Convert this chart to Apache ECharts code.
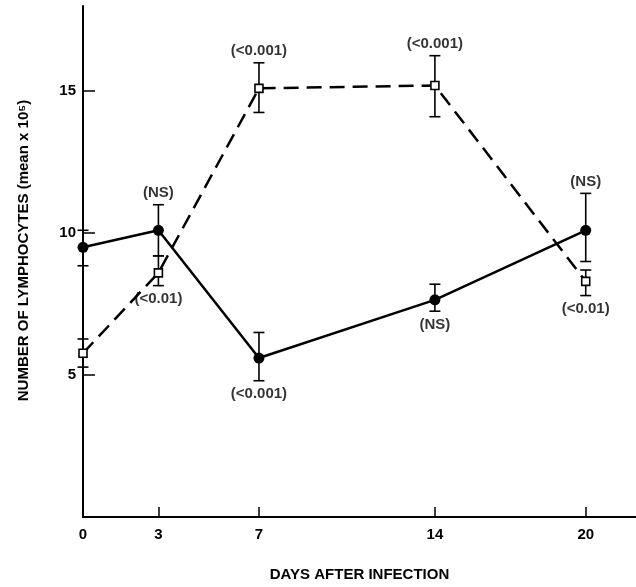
<!DOCTYPE html>
<html>
<head>
<meta charset="utf-8">
<script src="https://cdn.jsdelivr.net/npm/echarts@6/dist/echarts.min.js"></script>
<style>html,body{margin:0;padding:0;background:#fff}#c{width:636px;height:587px}</style>
</head>
<body>
<div id="c"></div>
<script>
// ---- data ----
const days = [0, 3, 7, 14, 20];
const xTickLabels = [0, 3, 7, 14, 20];
const yTickLabels = [5, 10, 15];

// solid line, filled circles
const solidMean = [9.5, 10.1, 5.6, 7.65, 10.1];
const solidLow  = [8.85, 9.2, 4.8, 7.25, 9.0];
const solidHigh = [10.1, 11.0, 6.5, 8.2, 11.4];
const solidP    = ['', '(NS)', '(<0.001)', '(NS)', '(NS)'];
const solidPPos = ['', 'top', 'bottom', 'bottom', 'top'];

// dashed line, open squares
const dashMean = [5.77, 8.6, 15.1, 15.2, 8.3];
const dashLow  = [5.28, 8.15, 14.25, 14.1, 7.8];
const dashHigh = [6.27, 9.2, 16.0, 16.25, 8.7];
const dashP    = ['', '(<0.01)', '(<0.001)', '(<0.001)', '(<0.01)'];
const dashPPos = ['', 'bottom', 'top', 'top', 'bottom'];

const FONT = '"Liberation Sans", Arial, Helvetica, sans-serif';

function errData(mean, lo, hi) {
  return days.map((d, i) => [d, lo[i], hi[i]]);
}
function lineData(mean) {
  return days.map((d, i) => [d, mean[i]]);
}
function labelData(pos, txt, lo, hi, which) {
  const out = [];
  days.forEach((d, i) => {
    if (txt[i] && pos[i] === which) out.push({ value: [d, which === 'top' ? hi[i] : lo[i]], name: txt[i] });
  });
  return out;
}

function errRender(params, api) {
  const x = api.value(0);
  const lo = api.coord([x, api.value(1)]);
  const hi = api.coord([x, api.value(2)]);
  const w = 5.5;
  const st = { stroke: '#000', lineWidth: 1.6 };
  return {
    type: 'group',
    children: [
      { type: 'line', shape: { x1: hi[0], y1: hi[1], x2: lo[0], y2: lo[1] }, style: st },
      { type: 'line', shape: { x1: hi[0] - w, y1: hi[1], x2: hi[0] + w, y2: hi[1] }, style: st },
      { type: 'line', shape: { x1: lo[0] - w, y1: lo[1], x2: lo[0] + w, y2: lo[1] }, style: st }
    ]
  };
}

const txt = { color: '#000', fontFamily: FONT, fontSize: 15, fontWeight: 'bold' };

const chart = echarts.init(document.getElementById('c'), null, { renderer: 'canvas' });
chart.setOption({
  animation: false,
  backgroundColor: '#fff',
  grid: { left: 83, right: 0, top: 6, bottom: 65, containLabel: false },
  xAxis: {
    type: 'value', min: 0, max: 22,
    name: 'DAYS AFTER INFECTION', nameLocation: 'middle', nameGap: 50,
    nameTextStyle: { ...txt },
    axisLine: { lineStyle: { color: '#000', width: 2 } },
    axisTick: { show: true, inside: true, length: 10, lineStyle: { color: '#000', width: 1.5 }, customValues: [3, 7, 14, 20] },
    axisLabel: { ...txt, margin: 10, customValues: xTickLabels },
    splitLine: { show: false }
  },
  yAxis: {
    type: 'value', min: 0, max: 18,
    name: 'NUMBER OF LYMPHOCYTES (mean x 10⁵)', nameLocation: 'middle', nameGap: 52,
    nameTextStyle: { ...txt, padding: [0, 0, 0, 22] },
    axisLine: { lineStyle: { color: '#000', width: 2 } },
    axisTick: { show: true, inside: true, length: 12, lineStyle: { color: '#000', width: 1.5 }, customValues: yTickLabels },
    axisLabel: { ...txt, margin: 7, customValues: yTickLabels },
    splitLine: { show: false }
  },
  series: [
    { type: 'custom', renderItem: errRender, data: errData(solidMean, solidLow, solidHigh), z: 2, silent: true },
    { type: 'custom', renderItem: errRender, data: errData(dashMean, dashLow, dashHigh), z: 2, silent: true },
    {
      type: 'line', data: lineData(solidMean), z: 3,
      lineStyle: { color: '#000', width: 2.5 },
      symbol: 'circle', symbolSize: 11,
      itemStyle: { color: '#000', borderColor: '#000', borderWidth: 0 }
    },
    {
      type: 'line', data: lineData(dashMean), z: 4,
      lineStyle: { color: '#000', width: 2.5, type: [15, 8] },
      symbol: 'rect', symbolSize: 8,
      itemStyle: { color: '#fff', borderColor: '#000', borderWidth: 1.6 }
    },
    {
      type: 'scatter', symbolSize: 0, z: 5, silent: true,
      data: labelData(solidPPos, solidP, solidLow, solidHigh, 'top').concat(labelData(dashPPos, dashP, dashLow, dashHigh, 'top')),
      label: { show: true, position: 'top', distance: 4, formatter: p => p.name, ...txt }
    },
    {
      type: 'scatter', symbolSize: 0, z: 5, silent: true,
      data: labelData(solidPPos, solidP, solidLow, solidHigh, 'bottom').concat(labelData(dashPPos, dashP, dashLow, dashHigh, 'bottom')),
      label: { show: true, position: 'bottom', distance: 6, formatter: p => p.name, ...txt }
    }
  ]
});
</script>
</body>
</html>
